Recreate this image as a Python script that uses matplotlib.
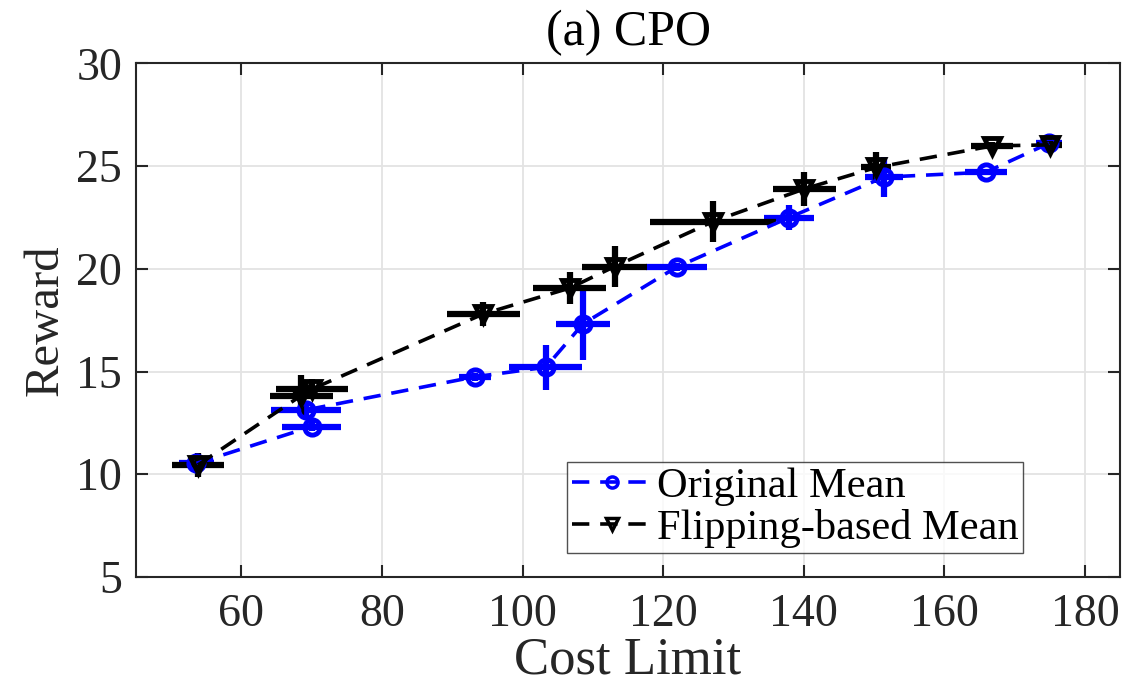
import numpy as np
import matplotlib
matplotlib.use("Agg")
import matplotlib.pyplot as plt
from matplotlib.lines import Line2D

plt.rcParams['font.family'] = ['Liberation Serif', 'DejaVu Serif']

# Original (blue) series: cost limit, reward, and half-widths of the error bars
orig_cost = [53.6, 70.0, 69.2, 93.2, 103.3, 108.6, 121.9, 137.9, 151.4, 165.9, 174.9]
orig_reward = [10.53, 12.32, 13.13, 14.74, 15.21, 17.32, 20.08, 22.49, 24.46, 24.70, 26.11]
orig_xerr = [2.5, 4.2, 5.0, 2.3, 5.2, 3.9, 4.4, 3.5, 2.7, 3.0, 1.8]
orig_yerr = [0.4, 0.2, 0.3, 0.2, 1.1, 1.75, 0.2, 0.62, 0.96, 0.15, 0.2]

# Flipping-based (black) series
flip_cost = [53.8, 68.5, 70.0, 94.4, 106.7, 113.1, 127.1, 140.1, 150.3, 166.8, 175.0]
flip_reward = [10.45, 13.83, 14.14, 17.80, 19.06, 20.11, 22.30, 23.89, 24.93, 25.98, 26.03]
flip_xerr = [3.65, 4.5, 5.1, 5.2, 5.2, 4.6, 9.0, 4.5, 2.1, 3.0, 1.8]
flip_yerr = [0.57, 0.99, 0.5, 0.58, 0.78, 1.02, 1.0, 0.82, 0.75, 0.2, 0.2]

xticks = [60, 80, 100, 120, 140, 160, 180]
yticks = [5, 10, 15, 20, 25, 30]

fig = plt.figure(figsize=(11.26, 6.98), dpi=100)
ax = fig.add_axes([0.1208, 0.1734, 0.9947 - 0.1208, 0.9093 - 0.1734])

dash = (4.8, 3.0)

# error bars (no connecting line), then dashed mean lines on top
ax.errorbar(orig_cost, orig_reward, xerr=orig_xerr, yerr=orig_yerr, fmt='none',
            ecolor='blue', elinewidth=4.5, capsize=0, zorder=3)
ax.errorbar(flip_cost, flip_reward, xerr=flip_xerr, yerr=flip_yerr, fmt='none',
            ecolor='black', elinewidth=4.5, capsize=0, zorder=4)
ax.plot(orig_cost, orig_reward, color='blue', lw=2.6, dashes=dash, marker='o',
        ms=11, mfc='none', mew=3.5, zorder=5)
ax.plot(flip_cost, flip_reward, color='black', lw=2.6, dashes=dash, marker='v',
        ms=11, mfc='none', mew=3.5, zorder=6)

ax.set_xlim(45, 185)
ax.set_ylim(5, 30)
ax.set_xticks(xticks)
ax.set_yticks(yticks)
ax.grid(True, color='#e3e3e3', lw=1.3)
ax.set_axisbelow(True)
ax.tick_params(direction='in', length=8.5, width=1.5, top=True, right=True,
               labelsize=33, colors='#262626')
ax.tick_params(axis='x', pad=12)
ax.tick_params(axis='y', pad=10)
for s in ax.spines.values():
    s.set_color('#262626')
    s.set_linewidth(1.5)

ax.set_xlabel('Cost Limit', fontsize=38, color='#262626', labelpad=0)
ax.set_ylabel('Reward', fontsize=35, color='#262626', labelpad=6)
ax.set_title('(a) CPO', fontsize=36, color='#000000', pad=13)

handles = [
    Line2D([], [], color='blue', lw=2.6, dashes=dash, marker='o', ms=8, mfc='none', mew=2.5),
    Line2D([], [], color='black', lw=2.6, dashes=dash, marker='v', ms=8, mfc='none', mew=2.5),
]
leg = ax.legend(handles, ['Original Mean', 'Flipping-based Mean'], loc='lower left',
                bbox_to_anchor=(0.4377, 0.046), fontsize=30.5, frameon=True, fancybox=False,
                handlelength=1.9, handletextpad=0.1, borderpad=0.12, labelspacing=0.08,
                borderaxespad=0)
leg.get_frame().set_edgecolor('#262626')
leg.get_frame().set_linewidth(1.0)

fig.savefig('out.png', dpi=100)
